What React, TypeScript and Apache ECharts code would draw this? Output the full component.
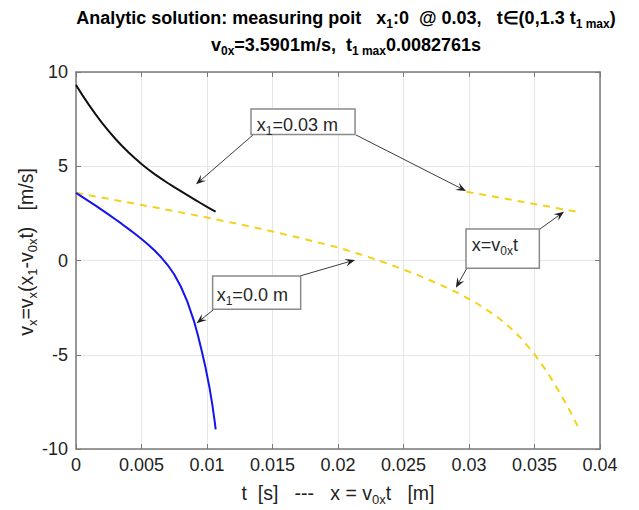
import React, { useEffect, useRef } from 'react';
import * as echarts from 'echarts';

// ---- axis ranges ----
const X_MIN = 0;
const X_MAX = 0.04;
const X_STEP = 0.005;
const Y_MIN = -10;
const Y_MAX = 10;
const Y_STEP = 5;

// ---- data ----
// x1 = 0.03 m (black, vs t)
const tBlack = [0, 0.0005, 0.001, 0.0015, 0.002, 0.0025, 0.003, 0.0035, 0.004, 0.0045, 0.005, 0.0055, 0.006, 0.0065, 0.007, 0.0075, 0.008, 0.0085, 0.009, 0.0095, 0.01, 0.0105, 0.01066];
const vBlack = [9.31, 8.76, 8.24, 7.75, 7.29, 6.86, 6.46, 6.09, 5.74, 5.42, 5.12, 4.84, 4.58, 4.34, 4.11, 3.89, 3.68, 3.47, 3.26, 3.05, 2.85, 2.65, 2.59];

// x1 = 0.0 m (blue, vs t)
const tBlue = [0, 0.0005, 0.001, 0.0015, 0.002, 0.0025, 0.003, 0.0035, 0.004, 0.0045, 0.005, 0.0055, 0.006, 0.0065, 0.007, 0.0075, 0.008, 0.0085, 0.009, 0.0093, 0.0096, 0.0099, 0.0102, 0.0104, 0.0106, 0.01066];
const vBlue = [3.59, 3.365, 3.14, 2.91, 2.675, 2.435, 2.19, 1.94, 1.68, 1.415, 1.14, 0.85, 0.53, 0.17, -0.24, -0.74, -1.38, -2.18, -3.2, -3.95, -4.8, -5.72, -6.78, -7.62, -8.6, -8.96];

// x = v0x t (yellow dashed), first branch
const xYellowA = [0, 0.0025, 0.005, 0.0075, 0.01, 0.0125, 0.015, 0.0175, 0.02, 0.0215, 0.023, 0.0245, 0.026, 0.0275, 0.029, 0.0305, 0.032, 0.033, 0.034, 0.035, 0.036, 0.037, 0.0378, 0.0384];
const vYellowA = [3.59, 3.27, 2.95, 2.62, 2.28, 1.92, 1.54, 1.13, 0.69, 0.37, 0.03, -0.35, -0.75, -1.19, -1.67, -2.23, -2.91, -3.47, -4.15, -4.97, -5.95, -7.1, -8.1, -8.94];

// x = v0x t (yellow dashed), second branch
const xYellowB = [0.0298, 0.0342, 0.0386];
const vYellowB = [3.65, 3.1, 2.54];

// ---- texts ----
const titleLine1 = 'Analytic solution: measuring poit   x{s|1}:0  @ 0.03,   t∈(0,1.3 t{s|1 max})';
const titleLine2 = 'v{s|0x}=3.5901m/s,  t{s|1 max}0.0082761s';
const yLabel = 'v{s|x}=v{s|x}(x{s|1}-v{s|0x}t)   [m/s]';
const xLabel = 't  [s]   ---   x = v{s|0x}t   [m]';

const noteA = 'x{s|1}=0.03 m';
const noteB = 'x{s|1}=0.0 m';
const noteC = 'x=v{s|0x}t';

const FONT = '"Liberation Sans", Arial, Helvetica, sans-serif';

const pairs = (xs: number[], ys: number[]) => xs.map((x, i) => [x, ys[i]]);

export default function App() {
  const ref = useRef<HTMLDivElement>(null);

  useEffect(() => {
    document.body.style.margin = '0';
    if (!ref.current) return;
    const chart = echarts.init(ref.current, null, { renderer: 'svg' });

    const axisColor = '#7a7a7a';
    const tickFmtX = (v: number) => String(Number(v.toFixed(3)));

    const option: any = {
      animation: false,
      backgroundColor: '#ffffff',
      grid: { left: 76, top: 72, width: 524, height: 377, outerBoundsMode: 'none', containLabel: false },
      xAxis: [
        {
          type: 'value', min: X_MIN, max: X_MAX, interval: X_STEP, position: 'bottom',
          axisLine: { show: true, onZero: false, lineStyle: { color: axisColor, width: 1.5 } },
          axisTick: { show: true, inside: true, length: 5, lineStyle: { color: axisColor } },
          splitLine: { show: true, lineStyle: { color: '#e6e6e6', width: 1 } },
          axisLabel: { formatter: tickFmtX, color: '#222', fontSize: 18, fontFamily: FONT, margin: 7 },
        },
        {
          type: 'value', min: X_MIN, max: X_MAX, interval: X_STEP, position: 'top',
          axisLine: { show: true, onZero: false, lineStyle: { color: axisColor, width: 1.5 } },
          axisTick: { show: true, inside: true, length: 5, lineStyle: { color: axisColor } },
          splitLine: { show: false }, axisLabel: { show: false },
        },
      ],
      yAxis: [
        {
          type: 'value', min: Y_MIN, max: Y_MAX, interval: Y_STEP, position: 'left',
          axisLine: { show: true, onZero: false, lineStyle: { color: axisColor, width: 1.5 } },
          axisTick: { show: true, inside: true, length: 5, lineStyle: { color: axisColor } },
          splitLine: { show: true, lineStyle: { color: '#e6e6e6', width: 1 } },
          axisLabel: { color: '#222', fontSize: 18, fontFamily: FONT, margin: 8 },
        },
        {
          type: 'value', min: Y_MIN, max: Y_MAX, interval: Y_STEP, position: 'right',
          axisLine: { show: true, onZero: false, lineStyle: { color: axisColor, width: 1.5 } },
          axisTick: { show: true, inside: true, length: 5, lineStyle: { color: axisColor } },
          splitLine: { show: false }, axisLabel: { show: false },
        },
      ],
      series: [
        {
          type: 'line', data: pairs(xYellowA, vYellowA), showSymbol: false, smooth: false,
          lineStyle: { color: '#f2d21a', width: 2, type: [7, 6] }, z: 2,
        },
        {
          type: 'line', data: pairs(xYellowB, vYellowB), showSymbol: false, smooth: false,
          lineStyle: { color: '#f2d21a', width: 2, type: [7, 6] }, z: 2,
        },
        {
          type: 'line', data: pairs(tBlack, vBlack), showSymbol: false, smooth: false,
          lineStyle: { color: '#111111', width: 2 }, z: 3,
        },
        {
          type: 'line', data: pairs(tBlue, vBlue), showSymbol: false, smooth: false,
          lineStyle: { color: '#1414f0', width: 2 }, z: 3,
        },
      ],
    };
    chart.setOption(option);

    const P = (x: number, y: number) => chart.convertToPixel({ xAxisIndex: 0, yAxisIndex: 0 }, [x, y]) as number[];

    const sub = (size: number, pad: number, bold = false) => ({
      fontSize: size, fontFamily: FONT, fontWeight: bold ? 'bold' : 'normal', padding: [pad, 0, 0, 0],
    });

    const notes = [
      { text: noteA, box: [0.01336, 8.04, 0.0213, 6.69], at: [0.0138, 7.19],
        arrows: [[0.01351, 6.66, 0.00916, 4.04], [0.02137, 6.66, 0.02977, 3.69]] },
      { text: noteB, box: [0.01043, -0.82, 0.01715, -2.59], at: [0.01074, -1.83],
        arrows: [[0.01046, -2.63, 0.00921, -3.33], [0.0171, -0.82, 0.0213, 0.03]] },
      { text: noteC, box: [0.02977, 1.67, 0.03537, -0.41], at: [0.03021, 0.82],
        arrows: [[0.02985, -0.4, 0.029, -1.44], [0.03542, 1.67, 0.03725, 2.59]] },
    ];

    const elements: any[] = [];
    notes.forEach((n) => {
      const a = P(n.box[0], n.box[1]);
      const b = P(n.box[2], n.box[3]);
      n.arrows.forEach((ar) => {
        const p0 = P(ar[0], ar[1]);
        const p1 = P(ar[2], ar[3]);
        const dx = p1[0] - p0[0];
        const dy = p1[1] - p0[1];
        const len = Math.hypot(dx, dy);
        const ux = dx / len, uy = dy / len;
        const nx = -uy, ny = ux;
        const L = 10, W = 4;
        elements.push({
          type: 'line', z: 20, silent: true,
          shape: { x1: p0[0], y1: p0[1], x2: p1[0] - ux * L * 0.6, y2: p1[1] - uy * L * 0.6 },
          style: { stroke: '#3c3c3c', lineWidth: 1 },
        });
        elements.push({
          type: 'polygon', z: 20, silent: true,
          shape: { points: [
            [p1[0], p1[1]],
            [p1[0] - ux * L + nx * W, p1[1] - uy * L + ny * W],
            [p1[0] - ux * L * 0.6, p1[1] - uy * L * 0.6],
            [p1[0] - ux * L - nx * W, p1[1] - uy * L - ny * W],
          ] },
          style: { fill: '#1e1e1e' },
        });
      });
      elements.push({
        type: 'rect', z: 21, silent: true,
        shape: { x: a[0], y: a[1], width: b[0] - a[0], height: b[1] - a[1] },
        style: { fill: '#ffffff', stroke: '#8a8a8a', lineWidth: 1.5 },
      });
      const t = P(n.at[0], n.at[1]);
      elements.push({
        type: 'text', z: 22, silent: true, x: t[0], y: t[1],
        style: {
          text: n.text, fill: '#262626', fontSize: 18, fontFamily: FONT,
          align: 'left', verticalAlign: 'middle',
          rich: { s: sub(12, 12) },
        },
      });
    });

    // titles and axis labels
    elements.push({
      type: 'text', x: 346, y: 18, z: 30,
      style: { text: titleLine1, fill: '#000', fontSize: 18, fontWeight: 'bold', fontFamily: FONT,
        align: 'center', verticalAlign: 'middle', rich: { s: sub(12, 11, true) } },
    });
    elements.push({
      type: 'text', x: 346, y: 45, z: 30,
      style: { text: titleLine2, fill: '#000', fontSize: 18, fontWeight: 'bold', fontFamily: FONT,
        align: 'center', verticalAlign: 'middle', rich: { s: sub(12, 11, true) } },
    });
    elements.push({
      type: 'text', x: 338, y: 493, z: 30,
      style: { text: xLabel, fill: '#222', fontSize: 19.5, fontFamily: FONT,
        align: 'center', verticalAlign: 'middle', rich: { s: sub(13, 12) } },
    });
    elements.push({
      type: 'text', x: 26, y: 252, z: 30, rotation: Math.PI / 2,
      style: { text: yLabel, fill: '#222', fontSize: 19.5, fontFamily: FONT,
        align: 'center', verticalAlign: 'middle', rich: { s: sub(13, 12) } },
    });

    chart.setOption({ graphic: { elements } });

    return () => chart.dispose();
  }, []);

  return <div ref={ref} style={{ width: 639, height: 510 }} />;
}
